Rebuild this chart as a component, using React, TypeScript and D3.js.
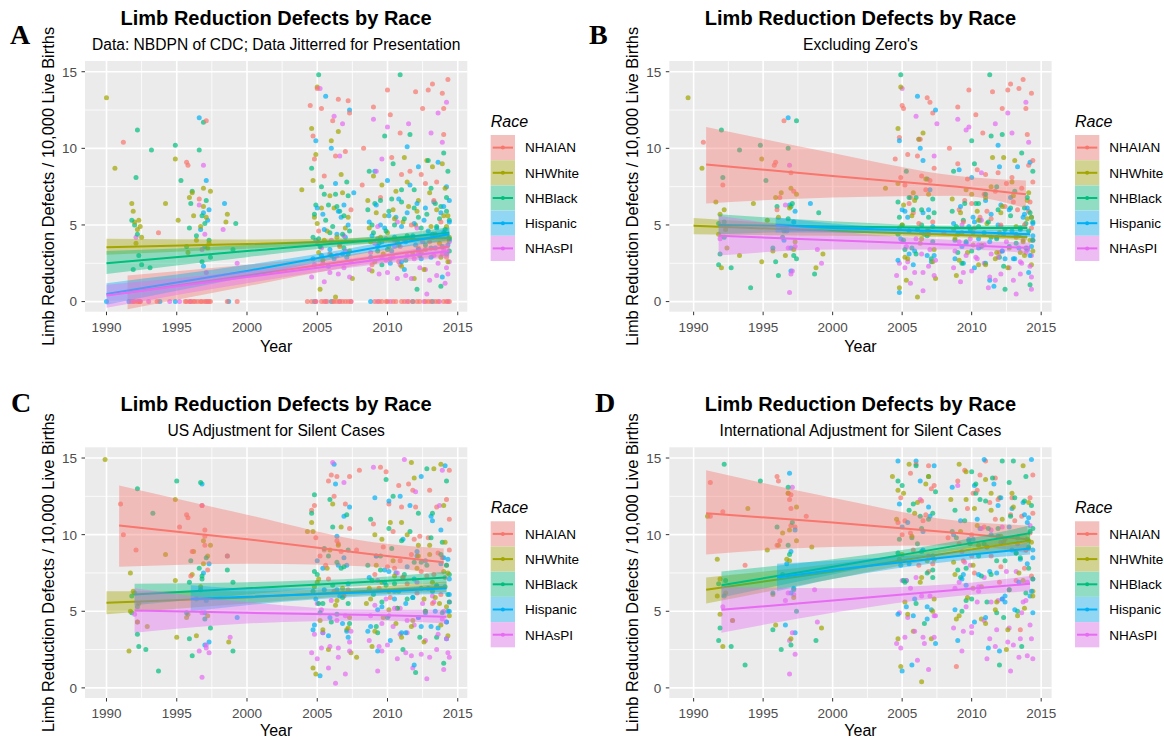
import React from 'react';
import * as d3 from 'd3';

const W = 1164;
const H = 739;

const races = ['NHAIAN', 'NHWhite', 'NHBlack', 'Hispanic', 'NHAsPI'];
const raceColors = ['#F8766D', '#A3A500', '#00BF7D', '#00B0F6', '#E76BF3'];
const panelLetters = ['A', 'B', 'C', 'D'];
const mainTitle = 'Limb Reduction Defects by Race';
const subtitles = [
  'Data: NBDPN of CDC; Data Jitterred for Presentation',
  "Excluding Zero's",
  'US Adjustment for Silent Cases',
  'International Adjustment for Silent Cases',
];
const xTicks = [1990, 1995, 2000, 2005, 2010, 2015];
const xMinor = [1992.5, 1997.5, 2002.5, 2007.5, 2012.5];
const yTicks = [0, 5, 10, 15];
const yMinor = [2.5, 7.5, 12.5];
const xLabel = 'Year';
const yLabel = 'Limb Reduction Defects / 10,000 Live Births';
const legendTitle = 'Race';

// ---------- Panel A points [year, rate] ----------
const ptsA_NHAIAN = [[1992.0,0],[1992.2,0],[1992.4,0],[1993.6,0],[1995.6,0],[1995.9,0],[1996.2,0],[1996.5,0],[1996.8,0],[1997.1,0],[1997.4,0],[1998.6,0],[1999.3,0],[2004.6,0],[2005.3,0],[2005.7,0],[2006.1,0],[2006.4,0],[2006.8,0],[2007.2,0],[2009.1,0],[2009.6,0],[2010.0,0],[2010.4,0],[2011.2,0],[2011.8,0],[2012.3,0],[2012.9,0],[2013.4,0],[2014.0,0],[2014.4,0],
  [1991.2,10.4],[1993.7,4.5],[1995.7,9.1],[1995.8,8.9],[1997.1,11.8],[1996.6,6.7],[2004.5,12.8],[2004.7,10.8],[2004.8,9.3],[2005.0,13.9],[2005.3,12.6],[2005.5,8.2],[2006.1,11.8],[2006.5,13.2],[2006.3,9.5],[2007.2,13.1],[2007.3,12.3],[2007.0,9.8],[2008.3,10.0],[2009.0,12.7],[2010.0,13.8],[2010.2,12.2],[2010.9,11.0],[2011.0,8.3],[2012.0,13.7],[2012.5,12.6],[2012.9,13.8],[2013.2,14.2],[2013.9,13.6],[2014.0,12.6],[2014.3,14.5],[2014.0,10.9],[2012.7,7.7],[2011.6,8.5],[2009.5,6.8],[2013.5,7.8],[2010.5,4.0],[2005.9,3.1],[2012.2,3.5],[2008.9,2.4],[2013.8,5.2],
  [2005.1,4.6],[2006.6,3.7],[2009.3,4.1],[2010.8,2.6],[2011.7,5.0],[2013.0,3.9],[2014.2,2.9],[2007.4,6.0],
  [1991.9,0],[1992.3,0],[1995.7,0],[1996.0,0],[1996.3,0],[1996.7,0],[1997.0,0],[1997.3,0],[2004.3,0],[2004.9,0],[2005.5,0],[2006.2,0],[2006.6,0],[2007.0,0],[2007.4,0],[2009.4,0],[2009.9,0],[2010.6,0],[2011.0,0],[2011.5,0],[2012.1,0],[2012.7,0],[2013.1,0],[2013.6,0],[2014.2,0],[2008.2,7.6],[2012.4,8.3],[2010.3,9.4],[2013.3,6.6]];
const ptsA_NHWhite = [[1990.0,13.3],[1990.6,8.7],[1991.8,6.4],[1992.0,5.2],[1992.2,4.7],[1992.3,5.3],[1992.1,3.8],[1992.5,4.2],[1994.2,6.4],[1994.9,9.3],[1995.1,5.3],[1995.9,6.8],[1996.1,7.1],[1996.4,4.0],[1996.9,7.4],[1997.1,5.5],[1997.3,3.8],[1998.5,5.2],[1998.6,5.7],[2003.9,7.3],[2004.6,11.3],[2005.0,14.0],[2004.9,9.6],[2005.3,6.1],[2005.5,4.0],[2006.0,10.5],[2006.5,11.1],[2006.8,7.1],[2007.2,5.5],[2007.5,1.5],[2006.3,0.3],[2005.2,0.8],[2008.6,6.6],[2009.0,8.2],[2009.5,4.2],[2010.2,2.8],[2010.6,7.2],[2011.2,9.4],[2011.5,6.2],[2012.0,5.0],[2012.4,3.2],[2012.8,9.2],[2013.2,8.8],[2013.5,6.0],[2013.9,9.0],[2014.2,4.9],[2014.3,2.6],[2011.9,1.5],[2009.8,5.6],[2008.9,2.0],
  [2004.8,5.5],[2005.1,3.2],[2005.7,4.6],[2006.2,6.1],[2006.6,3.6],[2007.0,4.8],[2008.8,3.9],[2009.2,5.8],[2009.7,3.1],[2010.0,4.5],[2010.8,3.7],[2011.1,5.2],[2011.7,4.1],[2012.2,6.6],[2012.7,3.4],[2013.1,4.9],[2013.7,3.8],[2014.0,5.6],[2014.4,4.2],[2010.4,6.0],
  [1991.9,5.9],[1992.4,4.9],[1995.8,3.2],[1996.2,5.6],[1996.7,4.9],[1996.9,6.2],[1997.2,3.5],[1997.4,7.2],[2004.7,7.9],[2005.0,5.1],[2005.4,2.7],[2005.9,6.9],[2006.4,4.2],[2006.7,8.3],[2007.3,3.3],[2008.7,4.8],[2009.1,2.6],[2009.6,7.6],[2010.1,3.6],[2010.5,5.4],[2011.0,2.3],[2011.4,7.8],[2011.8,3.1],[2012.1,5.9],[2012.6,2.1],[2013.0,7.1],[2013.4,4.4],[2013.8,2.9],[2014.1,7.4],[2014.3,5.6]];
const ptsA_NHBlack = [[1991.9,2.1],[1992.0,5.0],[1992.1,8.1],[1992.2,11.2],[1992.3,3.0],[1992.5,2.4],[1993.2,9.9],[1993.1,2.2],[1994.9,10.2],[1995.3,7.9],[1995.9,4.8],[1996.1,7.2],[1996.6,9.9],[1996.9,11.7],[1997.0,5.1],[1997.3,4.0],[1996.8,2.6],[1999.2,5.1],[1999.0,3.4],[2004.6,8.7],[2004.9,6.3],[2005.1,14.8],[2005.3,7.5],[2005.6,5.3],[2005.9,4.5],[2006.3,7.0],[2006.6,5.9],[2006.9,3.5],[2007.1,7.8],[2007.3,4.6],[2008.7,8.5],[2009.1,6.4],[2009.4,3.8],[2009.8,10.8],[2010.1,5.9],[2010.4,9.0],[2010.9,14.8],[2011.0,6.5],[2011.3,2.7],[2011.6,10.9],[2011.9,7.3],[2012.2,5.5],[2012.9,9.2],[2013.1,3.5],[2013.4,6.4],[2013.7,5.4],[2014.0,9.7],[2014.2,6.8],[2014.3,8.5],[2014.4,3.3],[2012.1,0.8],[2013.8,1.0],
  [2004.7,4.2],[2005.2,3.6],[2005.8,6.3],[2006.1,4.9],[2006.9,5.6],[2007.2,3.1],[2008.9,5.0],[2009.3,3.3],[2009.9,4.6],[2010.3,6.7],[2010.7,3.9],[2011.2,5.4],[2011.8,4.2],[2012.3,3.0],[2012.8,5.7],[2013.2,4.4],[2013.8,6.2],[2014.1,4.7],[2014.4,5.3],[2009.6,2.4],
  [1991.8,5.3],[1992.2,4.4],[1995.7,3.6],[1996.0,6.4],[1996.4,4.3],[1996.8,5.6],[1997.1,6.6],[1997.4,2.9],[2004.8,5.7],[2005.1,4.1],[2005.5,7.0],[2006.0,3.0],[2006.4,6.2],[2006.8,4.4],[2007.2,6.9],[2008.6,6.0],[2009.0,4.5],[2009.5,6.6],[2010.0,3.4],[2010.5,5.0],[2011.0,7.3],[2011.4,4.3],[2011.9,6.1],[2012.4,4.8],[2012.7,3.7],[2013.1,7.4],[2013.5,4.9],[2013.9,3.6],[2014.2,5.9],[2014.4,4.1]];
const ptsA_Hispanic = [[1990.0,0],[1991.6,0],[1993.8,0],[1994.9,0],[1998.7,0],[2004.8,0],[2006.0,0],[2008.8,0],[2011.8,0],[2013.2,0],
  [1996.6,12.0],[1996.9,5.8],[1997.1,7.9],[1997.2,5.3],[1998.4,6.4],[1996.9,2.3],[2004.9,10.5],[2005.6,13.4],[2006.0,10.0],[2006.3,7.7],[2006.7,5.5],[2007.3,12.5],[2007.0,4.2],[2006.2,2.8],[2007.6,7.1],[2009.1,8.5],[2009.5,5.0],[2010.0,7.9],[2010.3,3.3],[2010.8,6.7],[2011.0,4.9],[2011.4,10.1],[2011.6,7.6],[2012.0,3.7],[2012.2,8.8],[2012.6,5.3],[2013.3,6.5],[2013.6,9.1],[2014.0,4.5],[2014.2,7.5],[2014.4,6.6],[2013.9,1.6],[2011.2,2.1],[2008.9,4.3],[2005.3,3.0],
  [2004.9,4.0],[2005.4,5.7],[2005.8,2.3],[2006.4,4.4],[2006.9,6.3],[2007.1,2.9],[2008.7,5.2],[2009.3,3.6],[2009.8,4.8],[2010.2,2.5],[2010.6,5.5],[2011.3,3.9],[2011.9,5.1],[2012.4,2.8],[2012.9,4.6],[2013.4,3.5],[2013.8,5.8],[2014.2,3.1],[2014.4,4.0],[2012.1,6.4],
  [1996.7,4.7],[1997.0,3.6],[1997.3,6.0],[2004.7,2.8],[2005.0,6.1],[2005.5,4.7],[2005.9,3.4],[2006.5,5.9],[2006.8,3.1],[2007.2,5.0],[2008.8,2.9],[2009.2,6.3],[2009.6,3.9],[2010.1,5.6],[2010.5,4.2],[2011.0,2.6],[2011.4,5.8],[2011.8,4.3],[2012.2,3.4],[2012.7,6.1],[2013.1,2.9],[2013.5,4.8],[2014.0,6.2],[2014.3,3.7],[2014.4,5.2]];
const ptsA_NHAsPI = [[1991.8,0],[1992.4,0],[1993.0,0],[1994.5,0],[1995.2,0],[1996.0,0],[1997.2,0],[2004.9,0],[2005.6,0],[2006.6,0],[2007.4,0],[2009.3,0],[2010.2,0],[2011.4,0],[2012.6,0],[2013.7,0],[2014.3,0],
  [1992.1,4.2],[1996.9,8.9],[1996.6,6.3],[1998.3,4.7],[1999.3,2.5],[1997.0,4.4],[2005.2,13.9],[2006.2,12.1],[2006.6,9.5],[2006.8,11.6],[2005.5,1.3],[2006.9,2.2],[2009.0,11.9],[2009.2,8.5],[2009.6,9.3],[2010.0,11.4],[2009.9,2.7],[2010.7,1.5],[2011.5,11.6],[2011.2,4.0],[2012.3,2.2],[2012.8,0.5],[2013.1,11.0],[2013.6,12.3],[2013.3,3.0],[2014.2,13.0],[2013.9,10.4],[2014.1,1.2],[2014.4,2.6],
  [2004.8,2.4],[2005.3,3.5],[2005.9,1.9],[2006.4,3.0],[2006.9,4.3],[2007.3,1.6],[2008.8,3.2],[2009.4,1.8],[2009.9,4.1],[2010.4,2.9],[2010.9,3.6],[2011.3,1.7],[2011.9,2.8],[2012.5,3.9],[2013.0,1.4],[2013.6,2.5],[2014.0,3.4],[2014.3,1.8],[2012.1,4.8],[2010.7,5.2],
  [2004.6,1.6],[2005.0,3.9],[2005.4,2.5],[2006.0,4.0],[2006.5,1.8],[2007.0,3.3],[2007.4,2.6],[2008.7,2.1],[2009.1,3.8],[2009.6,2.9],[2010.0,1.9],[2010.5,3.6],[2010.9,2.4],[2011.4,3.0],[2011.7,1.5],[2012.2,3.2],[2012.7,2.1],[2013.2,4.2],[2013.5,1.7],[2013.9,3.1],[2014.2,2.2],[2014.4,3.9],[1996.8,3.4],[1997.1,1.9],[2009.3,4.9]];

// ---------- Panel B points ----------
const ptsB_NHAIAN = [[1990.7,10.4],[1996.5,11.8],[1995.9,9.1],[1995.8,8.9],[1996.2,6.8],[2004.5,9.3],[2004.8,10.7],[2005.0,12.8],[2005.1,12.6],[2006.1,9.5],[2006.3,10.6],[2006.8,13.3],[2007.0,13.0],[2007.2,12.3],[2008.4,10.0],[2009.0,12.7],[2009.8,13.8],[2010.3,12.2],[2010.8,11.0],[2011.5,13.7],[2012.2,12.6],[2012.6,13.8],[2012.8,14.2],[2013.4,13.9],[2013.7,14.5],[2013.9,12.6],[2014.0,10.9],[2014.3,13.6],[2014.1,8.9],[2011.0,8.3],[2012.5,7.7],[2013.0,6.5],[2009.5,6.6],[2010.6,5.5],[2007.0,7.9],[2005.5,6.4],[2008.0,4.5],[2012.0,3.2],[2014.3,4.8],
  [2005.2,7.6],[2005.8,5.8],[2006.4,8.2],[2006.9,4.6],[2009.1,6.0],[2009.7,8.0],[2010.2,4.8],[2010.9,7.0],[2011.4,5.4],[2011.9,8.4],[2012.4,6.2],[2013.2,4.2],[2013.6,7.4],[2014.1,5.9],[2014.4,7.8],[2007.2,5.2],[2005.4,9.6],[1997.2,7.2],[1996.4,4.8],
  [2004.9,8.1],[2005.6,6.8],[2006.2,5.1],[2006.7,7.3],[2007.3,8.7],[2009.0,9.0],[2009.4,5.2],[2010.0,6.4],[2010.4,8.6],[2011.1,5.9],[2011.7,7.2],[2012.1,5.0],[2012.9,8.1],[2013.3,6.0],[2013.8,5.0],[2014.2,6.5],[2014.4,9.2],[1996.0,6.0],[1997.0,8.4],[1992.1,7.6]];
const ptsB_NHWhite = [[1989.6,13.3],[1990.6,8.7],[1991.6,6.5],[1991.8,4.4],[1992.0,2.2],[1992.2,6.0],[1992.4,3.5],[1993.3,3.0],[1994.3,6.4],[1994.9,9.3],[1994.9,2.6],[1995.3,5.3],[1995.9,6.8],[1996.3,7.1],[1996.6,3.0],[1997.0,7.4],[1997.3,3.9],[1998.8,2.2],[1999.3,3.1],[2003.8,7.4],[2004.7,11.3],[2004.9,14.0],[2004.8,0.9],[2005.1,6.3],[2005.3,1.4],[2005.8,7.1],[2006.2,10.6],[2006.5,11.0],[2006.1,0.3],[2006.9,7.0],[2007.4,1.5],[2008.6,6.7],[2008.9,1.7],[2009.3,4.5],[2010.0,7.0],[2010.5,2.4],[2011.0,6.8],[2011.5,9.4],[2012.0,4.5],[2012.3,9.4],[2012.9,7.8],[2013.1,9.2],[2013.5,3.2],[2014.0,6.6],[2014.2,4.0],[2014.3,2.4],
  [2004.8,4.8],[2005.2,2.9],[2005.7,5.6],[2006.3,3.8],[2006.8,4.6],[2007.2,2.6],[2008.8,4.1],[2009.2,5.8],[2009.7,3.2],[2010.1,4.5],[2010.7,3.7],[2011.1,5.1],[2011.7,2.8],[2012.2,6.2],[2012.7,3.5],[2013.2,4.9],[2013.7,3.9],[2014.0,5.4],[2014.4,3.3],[2010.4,5.9],
  [1991.9,5.7],[1992.3,4.7],[1995.7,3.3],[1996.1,5.5],[1996.7,4.8],[1996.9,6.1],[1997.2,3.4],[1997.4,7.0],[2004.7,7.7],[2005.0,5.0],[2005.4,2.8],[2005.9,6.6],[2006.4,4.1],[2006.7,8.0],[2007.3,3.4],[2008.7,4.7],[2009.1,2.7],[2009.6,7.3],[2010.1,3.7],[2010.5,5.3],[2011.0,2.4],[2011.4,7.5],[2011.8,3.2],[2012.1,5.8],[2012.6,2.2],[2013.0,6.9],[2013.4,4.3],[2013.8,3.0],[2014.1,7.1],[2014.3,5.5]];
const ptsB_NHBlack = [[1991.8,2.4],[1991.9,3.1],[1992.0,11.2],[1992.1,8.1],[1992.2,5.2],[1992.7,2.2],[1993.3,9.9],[1994.1,0.9],[1994.8,10.2],[1995.2,7.9],[1995.9,2.6],[1996.1,1.7],[1996.5,4.6],[1996.8,10.0],[1997.4,11.8],[1997.0,6.2],[1997.2,3.0],[1998.7,1.8],[1999.0,5.8],[2004.7,6.5],[2004.9,14.8],[2005.0,5.0],[2005.3,8.5],[2005.7,3.5],[2006.0,6.8],[2006.4,5.0],[2006.8,8.0],[2007.1,2.8],[2007.3,5.8],[2008.7,8.5],[2009.0,3.2],[2009.4,5.3],[2010.0,10.5],[2010.2,9.0],[2010.5,6.4],[2010.9,4.5],[2011.3,14.8],[2011.4,10.8],[2011.8,7.5],[2012.0,2.9],[2012.2,10.9],[2012.8,6.1],[2013.2,3.8],[2013.6,9.7],[2014.0,6.8],[2014.2,1.1],[2014.4,8.5],[2013.9,5.1],[2012.4,0.8],
  [2004.7,4.4],[2005.2,3.4],[2005.8,6.0],[2006.1,4.7],[2006.9,5.5],[2007.2,3.9],[2008.9,4.9],[2009.3,2.5],[2009.9,4.7],[2010.3,6.4],[2010.7,3.6],[2011.2,5.2],[2011.8,4.1],[2012.3,2.3],[2012.8,5.6],[2013.2,4.4],[2013.8,6.1],[2014.1,4.6],[2014.4,5.2],[2009.6,3.9],
  [1991.8,5.1],[1992.2,4.2],[1995.7,3.5],[1996.0,6.2],[1996.4,4.2],[1996.8,5.4],[1997.1,6.4],[1997.4,2.8],[2004.8,5.5],[2005.1,4.0],[2005.5,6.8],[2006.0,3.1],[2006.4,6.0],[2006.8,4.3],[2007.2,6.7],[2008.6,5.9],[2009.0,4.4],[2009.5,6.4],[2010.0,3.3],[2010.5,4.9],[2011.0,7.0],[2011.4,4.2],[2011.9,6.0],[2012.4,4.7],[2012.7,3.6],[2013.1,7.2],[2013.5,4.8],[2013.9,3.5],[2014.2,5.8],[2014.4,4.0]];
const ptsB_Hispanic = [[1996.8,12.0],[1996.9,6.3],[1997.0,2.0],[1997.2,5.2],[1998.4,6.4],[1996.5,4.0],[2004.8,10.5],[2004.8,0.6],[2005.2,5.9],[2005.5,3.1],[2006.1,13.4],[2006.3,10.0],[2006.5,9.2],[2006.6,4.4],[2007.0,7.3],[2007.4,12.5],[2007.3,3.0],[2008.8,4.0],[2009.1,8.6],[2009.4,2.5],[2010.0,8.1],[2010.2,5.2],[2010.5,3.5],[2011.0,6.6],[2011.6,1.0],[2011.9,10.2],[2012.0,8.8],[2012.3,4.4],[2012.8,6.8],[2013.0,2.8],[2013.3,8.8],[2013.7,5.5],[2014.0,3.4],[2014.2,9.1],[2014.3,5.5],[2014.1,1.9],[2011.3,1.4],
  [2004.9,4.1],[2005.4,5.5],[2005.8,2.4],[2006.4,4.5],[2006.9,6.0],[2007.1,2.6],[2008.7,5.1],[2009.3,3.6],[2009.8,4.9],[2010.2,2.2],[2010.6,5.3],[2011.3,3.9],[2011.9,5.0],[2012.4,2.8],[2012.9,4.6],[2013.4,3.5],[2013.8,5.7],[2014.2,3.0],[2014.4,4.3],[2012.1,6.3],
  [1996.7,4.6],[1997.0,3.5],[1997.3,5.9],[2004.7,2.7],[2005.0,6.0],[2005.5,4.6],[2005.9,3.3],[2006.5,5.8],[2006.8,3.0],[2007.2,4.9],[2008.8,2.8],[2009.2,6.2],[2009.6,3.8],[2010.1,5.5],[2010.5,4.1],[2011.0,2.5],[2011.4,5.7],[2011.8,4.2],[2012.2,3.3],[2012.7,6.0],[2013.1,2.8],[2013.5,4.7],[2014.0,6.1],[2014.3,3.6],[2014.4,5.1]];
const ptsB_NHAsPI = [[1991.9,4.1],[1996.6,6.3],[1996.9,8.9],[1996.9,0.6],[1997.0,1.8],[1997.3,3.6],[1998.9,3.4],[1999.2,2.5],[2005.0,13.9],[2005.2,2.2],[2005.6,1.2],[2006.0,12.1],[2006.2,10.6],[2006.5,0.7],[2006.9,2.3],[2007.5,11.6],[2007.3,9.5],[2009.0,11.9],[2009.2,1.3],[2009.8,11.4],[2009.6,11.2],[2010.3,2.9],[2010.7,8.4],[2011.2,0.9],[2011.7,11.6],[2012.1,1.8],[2012.6,12.3],[2012.9,11.0],[2013.2,0.5],[2013.5,2.6],[2013.9,13.0],[2014.1,10.4],[2014.3,0.8],[2014.3,3.0],[2013.7,4.0],
  [2004.8,2.5],[2005.3,3.6],[2005.9,1.9],[2006.4,3.1],[2006.9,4.4],[2007.3,1.7],[2008.8,3.3],[2009.4,1.9],[2009.9,4.1],[2010.4,2.8],[2010.9,3.7],[2011.3,1.6],[2011.9,2.9],[2012.5,3.9],[2013.0,1.4],[2013.6,2.5],[2014.0,3.5],[2014.3,1.6],[2012.1,4.9],[2010.7,5.3],
  [2004.6,1.7],[2005.0,3.9],[2005.4,2.6],[2006.0,4.1],[2006.5,1.9],[2007.0,3.4],[2007.4,2.7],[2008.7,2.2],[2009.1,3.9],[2009.6,3.0],[2010.0,2.0],[2010.5,3.7],[2010.9,2.5],[2011.4,3.1],[2011.7,1.4],[2012.2,3.3],[2012.7,2.2],[2013.2,4.3],[2013.5,1.8],[2013.9,3.2],[2014.2,2.3],[2014.4,4.0],[1996.8,3.5],[1997.1,2.0],[2009.3,5.0]];

// ---------- Panel C points ----------
const ptsC_NHAIAN = [[1991.0,12.0],[1991.2,10.0],[1995.2,10.5],[1995.7,11.3],[1995.8,11.1],[1996.8,11.9],[1997.0,9.3],[1997.2,7.7],[1998.6,8.6],[2004.6,11.6],[2004.8,11.9],[2005.8,13.5],[2006.0,13.9],[2006.2,12.5],[2006.4,13.8],[2006.5,9.4],[2007.0,12.0],[2007.3,13.8],[2008.0,14.2],[2009.5,14.4],[2009.9,14.1],[2010.1,12.0],[2010.8,13.2],[2011.0,11.8],[2011.5,13.3],[2011.8,12.9],[2012.0,11.8],[2012.3,9.9],[2013.0,12.9],[2013.5,11.8],[2014.2,12.3],[2014.4,14.2],[2013.9,8.5],[2012.8,7.3],[2009.2,8.6],[2010.5,7.8],[2007.8,9.0],[2005.5,9.0],
  [2005.2,8.6],[2005.8,7.1],[2006.4,9.6],[2006.9,6.0],[2009.1,7.4],[2009.7,9.2],[2010.2,5.9],[2010.9,8.3],[2011.4,6.8],[2011.9,9.7],[2012.4,7.6],[2013.2,5.5],[2013.6,8.8],[2014.1,7.2],[2014.4,9.0],[2007.2,6.4],[1997.0,10.3],[1996.1,8.9],
  [2004.9,9.8],[2005.6,8.0],[2006.2,6.3],[2006.7,8.9],[2007.3,10.4],[2009.0,10.7],[2009.4,6.5],[2010.0,7.9],[2010.4,10.2],[2011.1,7.2],[2011.7,8.7],[2012.1,6.2],[2012.9,9.8],[2013.3,7.4],[2013.8,6.1],[2014.2,8.0],[2014.4,11.0],[1996.0,7.3],[1997.0,9.9],[1992.1,9.0]];
const ptsC_NHWhite = [[1989.9,14.9],[1991.7,7.5],[1991.7,5.0],[1991.6,2.4],[1992.2,4.3],[1992.9,4.0],[1994.2,8.7],[1994.9,12.3],[1994.9,7.0],[1995.0,3.3],[1995.8,4.8],[1996.2,8.9],[1996.4,3.4],[1996.9,9.6],[1997.2,8.6],[1998.7,3.0],[2004.3,10.2],[2004.6,10.8],[2004.7,1.3],[2004.9,0.9],[2005.1,7.1],[2005.8,2.5],[2006.1,12.0],[2006.5,9.3],[2007.1,3.8],[2007.4,2.3],[2007.8,2.0],[2008.5,5.5],[2008.9,2.7],[2009.1,10.0],[2009.6,6.9],[2010.2,10.8],[2010.6,4.2],[2011.0,10.8],[2011.7,14.7],[2011.9,13.7],[2012.2,9.3],[2012.6,5.8],[2013.0,8.7],[2013.3,14.3],[2013.8,14.6],[2014.0,11.9],[2014.2,5.3],[2014.3,3.4],
  [2004.8,6.6],[2005.2,4.4],[2005.7,7.8],[2006.3,5.4],[2006.8,6.5],[2007.2,3.9],[2008.8,5.8],[2009.2,8.0],[2009.7,4.6],[2010.1,6.3],[2010.7,5.2],[2011.1,7.2],[2011.7,4.0],[2012.2,8.6],[2012.7,5.0],[2013.2,6.9],[2013.7,5.5],[2014.0,7.6],[2014.4,4.7],[2010.4,8.3],
  [1991.9,6.3],[1992.3,5.5],[1995.7,4.6],[1996.1,7.4],[1996.7,6.6],[1996.9,8.1],[1997.2,4.7],[1997.4,9.3],[2004.7,10.2],[2005.0,6.9],[2005.4,3.8],[2005.9,9.0],[2006.4,5.7],[2006.7,10.5],[2007.3,4.6],[2008.7,6.5],[2009.1,3.7],[2009.6,9.7],[2010.1,5.1],[2010.5,7.3],[2011.0,3.3],[2011.4,10.0],[2011.8,4.4],[2012.1,7.8],[2012.6,3.0],[2013.0,9.3],[2013.4,5.9],[2013.8,4.1],[2014.1,9.5],[2014.3,7.5]];
const ptsC_NHBlack = [[1991.8,4.9],[1992.0,6.2],[1992.2,13.0],[1992.2,3.5],[1992.3,2.7],[1992.8,2.5],[1993.3,11.4],[1993.7,1.1],[1995.0,13.5],[1995.9,6.9],[1995.9,3.2],[1996.1,2.1],[1996.7,13.4],[1996.6,7.8],[1996.8,7.1],[1997.0,4.5],[1998.6,7.7],[1999.0,2.4],[1999.0,6.9],[2004.6,11.4],[2004.8,12.6],[2005.0,7.4],[2005.4,5.5],[2005.9,12.3],[2006.1,10.5],[2006.4,4.8],[2006.7,7.8],[2007.1,11.3],[2007.3,4.2],[2008.8,11.0],[2009.2,4.0],[2009.5,7.7],[2009.9,13.6],[2010.1,10.4],[2010.4,12.5],[2010.8,6.3],[2011.1,2.5],[2011.6,10.2],[2012.0,1.0],[2012.4,8.2],[2012.8,14.3],[2013.2,11.4],[2013.5,3.3],[2013.9,9.5],[2014.2,13.5],[2014.3,6.1],[2014.0,1.6],[2012.2,11.4],
  [2004.7,6.3],[2005.2,4.9],[2005.8,8.6],[2006.1,6.7],[2006.9,7.9],[2007.2,5.5],[2008.9,7.0],[2009.3,3.6],[2009.9,6.7],[2010.3,9.1],[2010.7,5.2],[2011.2,7.4],[2011.8,5.9],[2012.3,3.3],[2012.8,8.0],[2013.2,6.3],[2013.8,8.7],[2014.1,6.6],[2014.4,7.4],[2009.6,5.6],
  [1991.8,6.0],[1992.2,5.3],[1995.7,4.9],[1996.0,8.3],[1996.4,5.8],[1996.8,7.3],[1997.1,8.5],[1997.4,3.9],[2004.8,7.6],[2005.1,5.5],[2005.5,9.1],[2006.0,4.3],[2006.4,8.2],[2006.8,5.9],[2007.2,9.0],[2008.6,8.0],[2009.0,6.1],[2009.5,8.6],[2010.0,4.6],[2010.5,6.8],[2011.0,9.6],[2011.4,5.8],[2011.9,8.2],[2012.4,6.5],[2012.7,5.0],[2013.1,9.8],[2013.5,6.7],[2013.9,4.9],[2014.2,8.0],[2014.4,5.6]];
const ptsC_Hispanic = [[1996.9,7.5],[1997.0,2.8],[1997.1,5.7],[1997.3,3.0],[1996.8,13.3],[1998.6,8.6],[1999.3,4.6],[2004.8,4.1],[2005.2,0.8],[2005.4,3.6],[2006.2,14.6],[2006.3,13.3],[2006.4,9.9],[2006.6,6.0],[2006.9,11.2],[2007.1,8.0],[2007.3,11.8],[2007.2,3.3],[2008.6,3.7],[2009.1,12.4],[2009.3,2.4],[2009.8,7.7],[2010.1,12.2],[2010.5,6.3],[2010.9,12.5],[2011.1,9.7],[2011.3,3.6],[2011.6,11.9],[2011.9,1.5],[2012.1,8.6],[2012.4,13.8],[2012.7,4.9],[2013.1,11.2],[2013.2,10.9],[2013.6,3.9],[2013.8,10.3],[2014.1,14.5],[2014.3,8.4],[2014.4,5.0],[2014.2,3.2],
  [2004.9,5.8],[2005.4,7.8],[2005.8,3.4],[2006.4,6.4],[2006.9,8.5],[2007.1,3.7],[2008.7,7.2],[2009.3,5.1],[2009.8,6.9],[2010.2,3.1],[2010.6,7.5],[2011.3,5.5],[2011.9,7.1],[2012.4,4.0],[2012.9,6.5],[2013.4,5.0],[2013.8,8.1],[2014.2,4.3],[2014.4,6.1],[2012.1,8.9],
  [1996.7,6.4],[1997.0,4.9],[1997.3,8.1],[2004.7,3.8],[2005.0,8.3],[2005.5,6.4],[2005.9,4.6],[2006.5,8.0],[2006.8,4.2],[2007.2,6.8],[2008.8,4.0],[2009.2,8.6],[2009.6,5.3],[2010.1,7.6],[2010.5,5.8],[2011.0,3.6],[2011.4,7.9],[2011.8,5.9],[2012.2,4.6],[2012.7,8.3],[2013.1,4.0],[2013.5,6.6],[2014.0,8.5],[2014.3,5.0],[2014.4,7.1]];
const ptsC_NHAsPI = [[1992.0,4.8],[1992.2,4.3],[1996.6,2.4],[1996.8,0.7],[1996.8,11.9],[1997.1,2.6],[1997.3,2.3],[1998.8,3.3],[2005.0,1.9],[2005.3,2.6],[2005.8,1.3],[2006.1,14.7],[2006.3,0.3],[2006.5,2.0],[2006.9,13.4],[2007.0,0.9],[2007.3,3.0],[2009.0,14.4],[2009.3,1.1],[2009.6,2.4],[2010.1,4.7],[2010.7,1.9],[2011.2,14.9],[2011.4,3.6],[2011.8,1.3],[2012.0,12.8],[2012.4,2.2],[2012.8,0.6],[2013.3,5.6],[2013.7,11.9],[2013.9,14.2],[2014.0,1.2],[2014.2,4.3],[2014.4,2.0],
  [2004.8,3.5],[2005.3,5.1],[2005.9,2.7],[2006.4,4.4],[2006.9,6.2],[2007.3,2.4],[2008.8,4.7],[2009.4,2.7],[2009.9,5.8],[2010.4,4.0],[2010.9,5.2],[2011.3,2.3],[2011.9,4.1],[2012.5,5.5],[2013.0,2.0],[2013.6,3.5],[2014.0,5.0],[2014.3,2.3],[2012.1,6.9],[2010.7,7.5],
  [2004.6,2.3],[2005.0,5.5],[2005.4,3.6],[2006.0,5.7],[2006.5,2.6],[2007.0,4.7],[2007.4,3.7],[2008.7,3.1],[2009.1,5.4],[2009.6,4.2],[2010.0,2.8],[2010.5,5.2],[2010.9,3.5],[2011.4,4.4],[2011.7,2.1],[2012.2,4.6],[2012.7,3.1],[2013.2,6.0],[2013.5,2.5],[2013.9,4.5],[2014.2,3.2],[2014.4,5.6],[1996.8,4.9],[1997.1,2.8],[2009.3,7.0]];

// ---------- Panel D points ----------
const ptsD_NHAIAN = [[1991.2,13.4],[1991.2,11.2],[1993.7,8.0],[1996.0,13.8],[1996.1,13.5],[1996.8,12.7],[1996.9,12.3],[1997.0,11.7],[1997.3,10.5],[1998.1,11.2],[2004.7,10.8],[2005.0,10.0],[2005.6,14.0],[2006.0,14.6],[2006.5,10.9],[2006.9,14.5],[2007.1,13.0],[2008.3,9.8],[2008.9,1.4],[2009.5,14.2],[2010.1,12.7],[2010.6,13.9],[2011.0,14.8],[2011.3,12.1],[2011.7,13.7],[2012.3,9.5],[2012.8,11.3],[2013.1,10.9],[2013.5,3.8],[2013.9,9.0],[2014.2,12.4],[2014.3,7.3],[2012.0,6.9],[2010.0,8.6],
  [2005.2,10.9],[2005.8,9.0],[2006.4,12.2],[2006.9,7.6],[2009.1,9.4],[2009.7,11.7],[2010.2,7.5],[2010.9,10.5],[2011.4,8.6],[2011.9,12.3],[2012.4,9.7],[2013.2,7.0],[2013.6,11.2],[2014.1,9.1],[2014.4,11.4],[2007.2,8.1],[1997.0,10.6],[1996.2,9.6],
  [2004.9,12.4],[2005.6,10.1],[2006.2,8.0],[2006.7,11.3],[2007.3,13.2],[2009.0,13.5],[2009.4,8.3],[2010.0,10.0],[2010.4,12.9],[2011.1,9.2],[2011.7,11.0],[2012.1,7.9],[2012.9,12.4],[2013.3,9.4],[2013.8,7.8],[2014.2,10.1],[2014.4,13.9],[1996.0,9.3],[1997.0,12.6],[1992.1,11.5]];
const ptsD_NHWhite = [[1991.0,11.2],[1991.7,8.4],[1991.7,6.0],[1991.9,4.8],[1992.1,2.7],[1992.8,4.4],[1993.9,11.7],[1995.3,9.0],[1995.9,4.1],[1996.4,10.1],[1996.8,12.7],[1996.9,8.3],[1997.0,3.2],[1997.4,9.6],[1998.5,9.2],[1999.2,3.9],[2004.3,13.8],[2004.6,11.0],[2004.7,3.2],[2004.9,1.4],[2005.1,12.7],[2005.5,14.6],[2005.8,3.7],[2006.1,12.1],[2006.4,0.4],[2006.9,13.8],[2007.1,3.2],[2007.3,8.4],[2008.5,12.3],[2008.9,4.5],[2009.1,14.6],[2009.6,14.1],[2010.2,11.7],[2010.7,4.5],[2011.0,13.6],[2011.4,11.6],[2012.0,12.4],[2012.5,2.5],[2012.9,12.7],[2013.3,4.7],[2013.7,14.5],[2014.1,9.6],[2014.4,6.3],
  [2004.8,8.4],[2005.2,5.6],[2005.7,9.9],[2006.3,6.9],[2006.8,8.3],[2007.2,5.0],[2008.8,7.4],[2009.2,10.2],[2009.7,5.9],[2010.1,8.0],[2010.7,6.6],[2011.1,9.2],[2011.7,5.1],[2012.2,11.0],[2012.7,6.4],[2013.2,8.8],[2013.7,7.0],[2014.0,9.7],[2014.4,6.0],[2010.4,10.6],
  [1991.9,7.1],[1992.3,6.2],[1995.7,6.1],[1996.1,9.3],[1996.7,8.4],[1996.9,10.3],[1997.2,5.9],[1997.4,11.8],[2004.7,12.9],[2005.0,8.7],[2005.4,4.8],[2005.9,11.4],[2006.4,7.2],[2006.7,13.3],[2007.3,5.8],[2008.7,8.2],[2009.1,4.7],[2009.6,12.3],[2010.1,6.5],[2010.5,9.3],[2011.0,4.2],[2011.4,12.7],[2011.8,5.6],[2012.1,9.9],[2012.6,3.8],[2013.0,11.8],[2013.4,7.5],[2013.8,5.2],[2014.1,12.1],[2014.3,9.5]];
const ptsD_NHBlack = [[1991.8,3.1],[1991.9,3.9],[1992.2,14.6],[1992.3,7.0],[1992.7,2.7],[1993.7,1.5],[1994.8,13.5],[1995.7,3.8],[1996.3,2.5],[1996.8,13.1],[1996.9,8.7],[1997.0,2.8],[1997.2,6.4],[1998.8,3.1],[2004.7,13.5],[2005.0,13.2],[2005.3,7.0],[2005.7,9.8],[2006.0,14.5],[2006.3,11.2],[2006.6,4.2],[2006.9,13.8],[2007.2,7.2],[2007.4,12.8],[2008.8,11.6],[2009.2,7.2],[2009.6,5.7],[2010.0,14.1],[2010.3,13.3],[2010.6,12.3],[2010.9,9.4],[2011.1,5.6],[2011.5,13.7],[2011.8,4.9],[2012.0,1.5],[2012.2,14.8],[2012.7,13.4],[2013.0,14.8],[2013.3,5.0],[2013.6,2.7],[2013.9,13.8],[2014.1,7.8],[2014.3,11.9],
  [2004.7,8.8],[2005.2,6.9],[2005.8,12.0],[2006.1,9.4],[2006.9,11.0],[2007.2,7.7],[2008.9,9.8],[2009.3,5.0],[2009.9,9.4],[2010.3,12.7],[2010.7,7.3],[2011.2,10.4],[2011.8,8.3],[2012.3,4.6],[2012.8,11.2],[2013.2,8.8],[2013.8,12.2],[2014.1,9.2],[2014.4,10.4],[2009.6,7.8],
  [1991.8,6.8],[1992.2,6.0],[1995.7,6.2],[1996.0,10.5],[1996.4,7.4],[1996.8,9.3],[1997.1,10.8],[1997.4,5.0],[2004.8,9.7],[2005.1,7.0],[2005.5,11.6],[2006.0,5.5],[2006.4,10.4],[2006.8,7.5],[2007.2,11.4],[2008.6,10.2],[2009.0,7.7],[2009.5,10.9],[2010.0,5.8],[2010.5,8.6],[2011.0,12.2],[2011.4,7.4],[2011.9,10.4],[2012.4,8.3],[2012.7,6.4],[2013.1,12.4],[2013.5,8.5],[2013.9,6.2],[2014.2,10.2],[2014.4,7.1]];
const ptsD_Hispanic = [[1996.6,4.1],[1996.9,14.0],[1997.0,8.9],[1997.2,6.5],[1997.3,3.6],[2004.7,14.8],[2004.8,12.0],[2005.0,1.1],[2005.3,5.3],[2005.7,1.5],[2006.0,14.8],[2006.3,13.5],[2006.5,9.0],[2006.8,4.5],[2007.0,11.2],[2007.3,14.5],[2007.4,2.9],[2008.6,13.1],[2009.0,3.1],[2009.4,7.4],[2009.8,9.7],[2010.2,13.2],[2010.4,11.0],[2010.9,14.9],[2011.2,2.6],[2011.6,13.3],[2011.9,11.9],[2012.0,2.4],[2012.4,6.0],[2012.9,11.7],[2013.3,9.8],[2013.7,12.1],[2014.0,8.1],[2014.3,14.9],[2014.4,4.9],[2014.1,11.1],
  [2004.9,8.0],[2005.4,10.8],[2005.8,4.7],[2006.4,8.9],[2006.9,11.8],[2007.1,5.1],[2008.7,10.0],[2009.3,7.1],[2009.8,9.6],[2010.2,4.3],[2010.6,10.4],[2011.3,7.6],[2011.9,9.9],[2012.4,5.6],[2012.9,9.0],[2013.4,6.9],[2013.8,11.3],[2014.2,6.0],[2014.4,8.5],[2012.1,12.4],
  [1996.7,8.1],[1997.0,6.2],[1997.3,10.3],[2004.7,4.8],[2005.0,10.5],[2005.5,8.1],[2005.9,5.8],[2006.5,10.2],[2006.8,5.3],[2007.2,8.6],[2008.8,5.1],[2009.2,10.9],[2009.6,6.7],[2010.1,9.7],[2010.5,7.4],[2011.0,4.6],[2011.4,10.0],[2011.8,7.5],[2012.2,5.8],[2012.7,10.5],[2013.1,5.1],[2013.5,8.4],[2014.0,10.8],[2014.3,6.3],[2014.4,9.0]];
const ptsD_NHAsPI = [[1992.1,5.3],[1992.8,4.4],[1996.6,5.7],[1996.9,0.9],[1996.9,3.1],[1997.1,13.1],[1997.2,6.1],[1997.3,2.2],[1998.7,6.4],[1998.9,4.3],[2004.9,2.6],[2005.2,3.3],[2005.6,6.5],[2006.1,1.8],[2006.3,12.3],[2006.6,2.9],[2006.9,1.2],[2007.3,4.7],[2009.0,13.2],[2009.3,2.4],[2009.5,8.2],[2010.0,4.0],[2010.5,6.3],[2011.1,1.9],[2011.4,10.3],[2011.8,3.8],[2012.2,10.5],[2012.6,3.0],[2012.8,1.1],[2013.4,2.0],[2013.7,5.6],[2014.0,2.1],[2014.2,10.6],[2014.4,1.9],
  [2004.8,4.9],[2005.3,7.0],[2005.9,3.7],[2006.4,6.0],[2006.9,8.6],[2007.3,3.3],[2008.8,6.5],[2009.4,3.7],[2009.9,8.0],[2010.4,5.6],[2010.9,7.2],[2011.3,3.2],[2011.9,5.7],[2012.5,7.6],[2013.0,2.8],[2013.6,4.9],[2014.0,6.9],[2014.3,3.2],[2012.1,9.5],[2010.7,10.4],
  [2004.6,2.9],[2005.0,7.0],[2005.4,4.6],[2006.0,7.2],[2006.5,3.3],[2007.0,6.0],[2007.4,4.7],[2008.7,3.9],[2009.1,6.9],[2009.6,5.3],[2010.0,3.6],[2010.5,6.6],[2010.9,4.4],[2011.4,5.6],[2011.7,2.7],[2012.2,5.8],[2012.7,3.9],[2013.2,7.6],[2013.5,3.2],[2013.9,5.7],[2014.2,4.1],[2014.4,7.1],[1996.8,6.2],[1997.1,3.6],[2009.3,8.9]];

// ---------- Linear fits: [year, fit, lower95, upper95] ----------
const fitA_NHAIAN = [[1991.5,0.6,-0.5,1.7],[2000,1.7,1.0,2.4],[2009,2.9,2.5,3.3],[2014.4,3.6,3.0,4.2]];
const fitA_NHWhite = [[1990,3.55,3.05,4.1],[2000,3.75,3.45,4.05],[2009,4.0,3.8,4.2],[2014.4,4.15,3.85,4.45]];
const fitA_NHBlack = [[1990,2.5,1.8,3.3],[2000,3.3,2.9,3.7],[2009,4.0,3.8,4.25],[2014.4,4.5,4.2,4.85]];
const fitA_Hispanic = [[1990,0.5,-0.2,1.2],[2000,2.0,1.6,2.4],[2009,3.5,3.25,3.75],[2014.4,4.4,4.0,4.8]];
const fitA_NHAsPI = [[1990,0.4,-0.4,1.1],[2000,1.6,1.2,2.0],[2009,2.7,2.4,3.0],[2014.4,3.3,2.9,3.8]];

const fitB_NHAIAN = [[1990.9,8.95,6.4,11.4],[2000,8.2,6.8,9.7],[2009,7.5,6.9,8.2],[2013.9,7.0,6.1,7.9]];
const fitB_NHWhite = [[1990,4.95,4.4,5.45],[2000,4.6,4.3,4.9],[2009,4.35,4.2,4.5],[2014,4.2,4.0,4.45]];
const fitB_NHBlack = [[1991.8,5.0,4.4,5.7],[2000,4.9,4.6,5.25],[2009,4.8,4.65,4.95],[2014,4.8,4.6,5.0]];
const fitB_Hispanic = [[1995.9,5.0,4.5,5.5],[2000,4.8,4.5,5.1],[2009,4.55,4.4,4.7],[2014.2,4.4,4.2,4.65]];
const fitB_NHAsPI = [[1991.8,4.3,3.0,5.6],[2000,4.0,3.4,4.6],[2009,3.7,3.4,4.0],[2014.2,3.5,3.15,3.85]];

const fitC_NHAIAN = [[1990.9,10.6,7.9,13.2],[2000,9.7,8.1,11.3],[2009,8.7,7.9,9.5],[2014,8.2,7.4,9.1]];
const fitC_NHWhite = [[1990,5.55,4.8,6.3],[2000,5.9,5.5,6.3],[2009,6.35,6.1,6.6],[2014.2,6.6,6.25,6.95]];
const fitC_NHBlack = [[1992,6.1,5.4,6.8],[2000,6.5,6.1,6.9],[2009,6.95,6.7,7.2],[2014.2,7.2,6.85,7.6]];
const fitC_Hispanic = [[1996,5.8,5.0,6.7],[2000,5.95,5.4,6.5],[2009,6.25,6.0,6.5],[2014.2,6.5,6.15,6.85]];
const fitC_NHAsPI = [[1992,5.05,3.6,6.5],[2000,4.9,4.2,5.6],[2009,4.75,4.4,5.1],[2014.2,4.65,4.2,5.1]];

const fitD_NHAIAN = [[1990.9,11.4,8.7,14.2],[2000,10.8,9.2,12.4],[2009,10.1,9.3,10.9],[2014,9.7,8.8,10.6]];
const fitD_NHWhite = [[1990.9,6.4,5.5,7.2],[2000,7.6,7.1,8.1],[2009,8.9,8.6,9.2],[2014.2,9.6,9.1,10.1]];
const fitD_NHBlack = [[1992,6.7,5.9,7.6],[2000,7.9,7.4,8.4],[2009,9.3,9.0,9.6],[2014.2,10.1,9.6,10.6]];
const fitD_Hispanic = [[1996,7.2,6.3,8.1],[2000,7.7,7.1,8.3],[2009,8.6,8.3,8.9],[2014.2,9.1,8.7,9.5]];
const fitD_NHAsPI = [[1992,5.1,3.6,6.6],[2000,5.7,4.9,6.5],[2009,6.4,6.0,6.8],[2014.2,6.8,6.3,7.3]];

const panelPoints = [
  [ptsA_NHAIAN, ptsA_NHWhite, ptsA_NHBlack, ptsA_Hispanic, ptsA_NHAsPI],
  [ptsB_NHAIAN, ptsB_NHWhite, ptsB_NHBlack, ptsB_Hispanic, ptsB_NHAsPI],
  [ptsC_NHAIAN, ptsC_NHWhite, ptsC_NHBlack, ptsC_Hispanic, ptsC_NHAsPI],
  [ptsD_NHAIAN, ptsD_NHWhite, ptsD_NHBlack, ptsD_Hispanic, ptsD_NHAsPI],
];
const panelFits = [
  [fitA_NHAIAN, fitA_NHWhite, fitA_NHBlack, fitA_Hispanic, fitA_NHAsPI],
  [fitB_NHAIAN, fitB_NHWhite, fitB_NHBlack, fitB_Hispanic, fitB_NHAsPI],
  [fitC_NHAIAN, fitC_NHWhite, fitC_NHBlack, fitC_Hispanic, fitC_NHAsPI],
  [fitD_NHAIAN, fitD_NHWhite, fitD_NHBlack, fitD_Hispanic, fitD_NHAsPI],
];

// layout
const SANS = '"Liberation Sans", Arial, sans-serif';
const SERIF = '"Liberation Serif", "Times New Roman", serif';
const panelOffsets = [[0, 0], [584.3, 0], [0, 386.3], [584.3, 386.3]];
const letterPos = [[10, 43.5], [589, 43.8], [11, 412], [595, 412]];
const xDomains = [[1988.47, 2015.68], [1988.25, 2015.75], [1988.47, 2015.68], [1988.25, 2015.75]];
const plot = { left: 85, right: 467.3, top: 61, bottom: 311.7 };

function Panel({ idx }: { idx: number }) {
  const [ox, oy] = panelOffsets[idx];
  const x = d3.scaleLinear().domain(xDomains[idx]).range([plot.left, plot.right]);
  const y = d3.scaleLinear().domain([-0.66, 15.7]).range([plot.bottom, plot.top]);
  const cx = (plot.left + plot.right) / 2;
  const cy = (plot.top + plot.bottom) / 2;
  const clipId = `clip-${idx}`;

  // interleave races so colours mix like the original draw order
  const sets = panelPoints[idx];
  const maxLen = d3.max(sets, s => s.length) || 0;
  const mixed: { p: number[]; r: number }[] = [];
  for (let i = 0; i < maxLen; i++) {
    sets.forEach((s, r) => { if (s[i]) mixed.push({ p: s[i], r }); });
  }

  const area = d3.area<number[]>()
    .x(d => x(d[0]))
    .y0(d => y(d[2]))
    .y1(d => y(d[3]))
    .curve(d3.curveMonotoneX);
  const line = d3.line<number[]>()
    .x(d => x(d[0]))
    .y(d => y(d[1]));

  const legX = 490.7;
  const legY = 135;
  const keyW = 24.3;
  const keyH = 25.2;
  const yearBase = idx >= 2 ? 349.5 : 352;

  return (
    <g transform={`translate(${ox},${oy})`}>
      <defs>
        <clipPath id={clipId}>
          <rect x={plot.left} y={plot.top} width={plot.right - plot.left} height={plot.bottom - plot.top} />
        </clipPath>
      </defs>
      <rect x={plot.left} y={plot.top} width={plot.right - plot.left} height={plot.bottom - plot.top} fill="#EBEBEB" />
      {xMinor.map(v => (
        <line key={`xm${v}`} x1={x(v)} x2={x(v)} y1={plot.top} y2={plot.bottom} stroke="#fff" strokeWidth={0.8} />
      ))}
      {yMinor.map(v => (
        <line key={`ym${v}`} x1={plot.left} x2={plot.right} y1={y(v)} y2={y(v)} stroke="#fff" strokeWidth={0.8} />
      ))}
      {xTicks.map(v => (
        <line key={`xg${v}`} x1={x(v)} x2={x(v)} y1={plot.top} y2={plot.bottom} stroke="#fff" strokeWidth={1.6} />
      ))}
      {yTicks.map(v => (
        <line key={`yg${v}`} x1={plot.left} x2={plot.right} y1={y(v)} y2={y(v)} stroke="#fff" strokeWidth={1.6} />
      ))}

      <g clipPath={`url(#${clipId})`}>
        {mixed.map((m, i) => (
          <circle key={i} cx={x(m.p[0])} cy={y(m.p[1])} r={2.5} fill={raceColors[m.r]} fillOpacity={0.7} />
        ))}
        {panelFits[idx].map((f, r) => (
          <g key={races[r]}>
            <path d={area(f) || ''} fill={raceColors[r]} fillOpacity={0.4} />
            <path d={line(f) || ''} fill="none" stroke={raceColors[r]} strokeWidth={2} />
          </g>
        ))}
      </g>

      {/* axes */}
      {xTicks.map(v => (
        <g key={`xt${v}`}>
          <line x1={x(v)} x2={x(v)} y1={plot.bottom} y2={plot.bottom + 3.5} stroke="#333" strokeWidth={1} />
          <text x={x(v)} y={332} textAnchor="middle" fontSize={13.5} fill="#4D4D4D" fontFamily={SANS}>{v}</text>
        </g>
      ))}
      {yTicks.map(v => (
        <g key={`yt${v}`}>
          <line x1={plot.left - 3.5} x2={plot.left} y1={y(v)} y2={y(v)} stroke="#333" strokeWidth={1} />
          <text x={77} y={y(v)} dy="0.36em" textAnchor="end" fontSize={13.5} fill="#4D4D4D" fontFamily={SANS}>{v}</text>
        </g>
      ))}
      <text x={cx} y={yearBase} textAnchor="middle" fontSize={16} fill="#000" fontFamily={SANS}>{xLabel}</text>
      <text transform={`translate(54,${cy}) rotate(-90)`} textAnchor="middle" fontSize={16.4} fill="#000" fontFamily={SANS}>{yLabel}</text>

      {/* titles */}
      <text x={cx} y={25} textAnchor="middle" fontSize={20} fontWeight="bold" fill="#000" fontFamily={SANS}>{mainTitle}</text>
      <text x={cx} y={50} textAnchor="middle" fontSize={15.6} fill="#000" fontFamily={SANS}>{subtitles[idx]}</text>

      {/* legend */}
      <text x={legX} y={126.7} fontSize={16} fontStyle="italic" fill="#000" fontFamily={SANS}>{legendTitle}</text>
      {races.map((r, i) => {
        const ky = legY + i * keyH;
        return (
          <g key={`lg${r}`}>
            <rect x={legX} y={ky} width={keyW} height={keyH} fill="#F2F2F2" />
            <rect x={legX} y={ky} width={keyW} height={keyH} fill={raceColors[i]} fillOpacity={0.4} />
            <line x1={legX + 2} x2={legX + keyW - 2} y1={ky + keyH / 2} y2={ky + keyH / 2} stroke={raceColors[i]} strokeWidth={2} />
            <circle cx={legX + keyW / 2} cy={ky + keyH / 2} r={2} fill={raceColors[i]} />
            <text x={525} y={ky + keyH / 2} dy="0.36em" fontSize={13.5} fill="#000" fontFamily={SANS}>{r}</text>
          </g>
        );
      })}
    </g>
  );
}

export default function App() {
  return (
    <svg width={W} height={H} style={{ position: 'absolute', left: 0, top: 0, background: '#fff' }}>
      <rect x={0} y={0} width={W} height={H} fill="#fff" />
      {panelLetters.map((_, i) => <Panel key={i} idx={i} />)}
      {panelLetters.map((l, i) => (
        <text key={`L${l}`} x={letterPos[i][0]} y={letterPos[i][1]} fontSize={28} fontWeight="bold" fill="#000" fontFamily={SERIF}>{l}</text>
      ))}
    </svg>
  );
}
